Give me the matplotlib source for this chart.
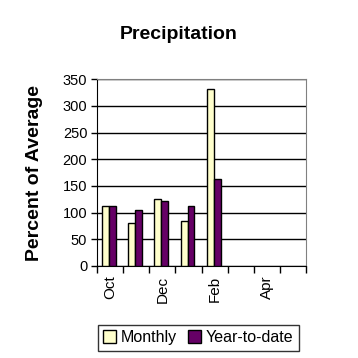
import numpy as np
import matplotlib.pyplot as plt

plt.rcParams['font.family'] = ['Liberation Sans', 'DejaVu Sans']

months = ['Oct', 'Nov', 'Dec', 'Jan', 'Feb', 'Mar', 'Apr', 'May']
monthly = [113, 80, 125, 85, 331]
ytd = [113, 104, 121, 112, 162]
yticks = [0, 50, 100, 150, 200, 250, 300, 350]

fig = plt.figure(figsize=(3.58, 3.58), dpi=100)
ax = fig.add_axes([0.271, 0.257, 0.584, 0.522])

x = np.arange(len(monthly))
w = 0.265
ax.bar(x - 0.17, monthly, w, color='#FFFFCC', edgecolor='black', linewidth=1, label='Monthly', zorder=3)
ax.bar(x + 0.095, ytd, w, color='#660066', edgecolor='black', linewidth=1, label='Year-to-date', zorder=3)

ax.set_xlim(-0.5, len(months) - 0.5)
ax.set_ylim(0, 350)
ax.set_yticks(yticks)
ax.set_yticklabels([str(v) for v in yticks], fontsize=10.5)
ax.yaxis.grid(True, color='black', linewidth=1)
ax.set_axisbelow(True)

ax.set_xticks(np.arange(len(months)))
ax.set_xticklabels([m if i % 2 == 0 else '' for i, m in enumerate(months)], rotation=90, fontsize=11)
ax.tick_params(axis='x', which='major', length=0, pad=7)
ax.set_xticks(np.arange(-0.5, len(months)), minor=True)
ax.tick_params(axis='x', which='minor', length=5, width=1, color='black', direction='out')
ax.tick_params(axis='y', length=4, width=1, direction='out', pad=3)

for s in ['top', 'right']:
    ax.spines[s].set_color('#808080')
for s in ['left', 'bottom']:
    ax.spines[s].set_color('black')

ax.set_ylabel('Percent of Average', fontsize=14, fontweight='bold', labelpad=14)
fig.text(0.5, 0.905, 'Precipitation', ha='center', va='center', fontsize=14, fontweight='bold')

leg = fig.legend(loc='center', bbox_to_anchor=(0.554, 0.057), ncol=2, fontsize=11.5,
                 frameon=True, fancybox=False, edgecolor='black', handlelength=0.8,
                 handleheight=0.8, handletextpad=0.3, columnspacing=0.7, borderpad=0.35)
leg.get_frame().set_linewidth(1)

fig.savefig('out.png', dpi=100)
